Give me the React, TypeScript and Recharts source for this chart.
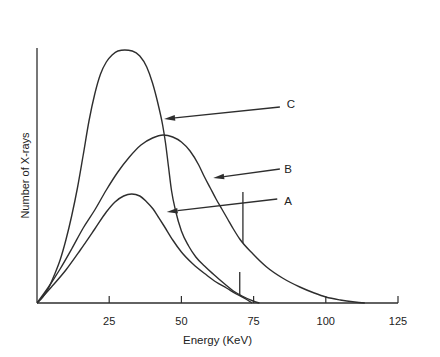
import { Label, Line, LineChart, ReferenceDot, ReferenceLine, XAxis, YAxis } from "recharts";

// X-ray spectra: energy (keV) vs relative count
const curveA = [
  { e: 0, n: 0 }, { e: 5, n: 16 }, { e: 10, n: 33 }, { e: 15, n: 53 },
  { e: 20, n: 74 }, { e: 24, n: 91 }, { e: 27, n: 101 }, { e: 30, n: 107 },
  { e: 32.8, n: 109 }, { e: 35.6, n: 107 }, { e: 38, n: 101 }, { e: 40.2, n: 94 },
  { e: 42, n: 86 }, { e: 44, n: 77 }, { e: 47, n: 63 }, { e: 50, n: 51 },
  { e: 54, n: 39 }, { e: 58.7, n: 28 }, { e: 62, n: 21 }, { e: 65.6, n: 15 },
  { e: 69, n: 9 }, { e: 72.6, n: 3.5 }, { e: 74.5, n: 0 },
];

const curveB = [
  { e: 0, n: 0 }, { e: 4, n: 16 }, { e: 8, n: 34 }, { e: 12, n: 54 },
  { e: 16, n: 75 }, { e: 20, n: 93 }, { e: 24, n: 113 }, { e: 28, n: 131 },
  { e: 32, n: 146 }, { e: 36, n: 158 }, { e: 40, n: 165 }, { e: 43.7, n: 168 },
  { e: 47, n: 166 }, { e: 50, n: 161 }, { e: 53, n: 152 }, { e: 56, n: 138 },
  { e: 58, n: 126 }, { e: 60, n: 115 }, { e: 62, n: 104 }, { e: 64, n: 94 },
  { e: 66, n: 84 }, { e: 68, n: 74 }, { e: 70.2, n: 64 }, { e: 74.8, n: 49 },
  { e: 79.5, n: 36 }, { e: 85, n: 25 }, { e: 91, n: 16 }, { e: 96, n: 10 },
  { e: 100, n: 6 }, { e: 105, n: 3 }, { e: 110, n: 1 }, { e: 113.5, n: 0 },
];

const curveC = [
  { e: 0, n: 0 }, { e: 2, n: 6 }, { e: 4, n: 15 }, { e: 6, n: 28 },
  { e: 8, n: 43 }, { e: 10, n: 63 }, { e: 12, n: 87 }, { e: 14, n: 115 },
  { e: 16, n: 148 }, { e: 18, n: 182 }, { e: 20, n: 209 }, { e: 22, n: 229 },
  { e: 24, n: 241 }, { e: 26, n: 248 }, { e: 28, n: 252 }, { e: 30.4, n: 253 },
  { e: 33, n: 252 }, { e: 35.6, n: 247 }, { e: 38, n: 236 }, { e: 40, n: 220 },
  { e: 42, n: 198 }, { e: 43.5, n: 178 }, { e: 44.5, n: 160 }, { e: 45.5, n: 137 },
  { e: 46.6, n: 112 }, { e: 48, n: 92 }, { e: 50, n: 72 }, { e: 52.5, n: 57 },
  { e: 55, n: 46 }, { e: 58, n: 37 }, { e: 61, n: 29 }, { e: 65, n: 19 },
  { e: 68, n: 12 }, { e: 71, n: 7 }, { e: 74.8, n: 2 }, { e: 77, n: 0 },
];

const energyTicks = [25, 50, 75, 100, 125];

// annotation arrows: tail, tip and letter, in chart units
const arrowNames = ["A", "B", "C"];
const arrowTails = [{ e: 83.2, n: 104 }, { e: 84.1, n: 134 }, { e: 84.1, n: 196 }];
const arrowTips = [{ e: 44.9, n: 91 }, { e: 61, n: 125 }, { e: 44.0, n: 184 }];
const letterSpots = [{ e: 86.9, n: 102 }, { e: 86.9, n: 134 }, { e: 87.9, n: 199 }];

// the two hand-drawn vertical marks near 70 keV
const markLines = [
  [{ e: 71.3, n: 111 }, { e: 71.3, n: 60 }],
  [{ e: 70.2, n: 31 }, { e: 70.2, n: 8 }],
];

const INK = "#2e2e2e";
const TEXT = "#222";
const FONT = "'Liberation Sans', Arial, sans-serif";

function Arrow(props: any) {
  const { x1, y1, x2, y2 } = props;
  const len = Math.hypot(x2 - x1, y2 - y1) || 1;
  const ux = (x2 - x1) / len;
  const uy = (y2 - y1) / len;
  const bx = x2 - ux * 11;
  const by = y2 - uy * 11;
  const px = -uy * 2.8;
  const py = ux * 2.8;
  return (
    <g>
      <line x1={x1} y1={y1} x2={bx} y2={by} stroke={INK} strokeWidth={1.3} />
      <polygon points={`${x2},${y2} ${bx + px},${by + py} ${bx - px},${by - py}`} fill={INK} />
    </g>
  );
}

function EnergyTick(props: any) {
  const { x, y, payload } = props;
  return (
    <g>
      <line x1={x} x2={x} y1={y} y2={y - 7} stroke={INK} strokeWidth={1.2} />
      <text x={x} y={y + 22} textAnchor="middle" fontSize={11} fill={TEXT} fontFamily={FONT}>
        {payload.value}
      </text>
    </g>
  );
}

export default function App() {
  return (
    <div style={{ position: "absolute", left: 0, top: 0, width: 440, height: 357, background: "#fff" }}>
      <LineChart width={440} height={357} margin={{ top: 48, right: 42, bottom: 24, left: 7 }}>
        <XAxis
          type="number"
          dataKey="e"
          domain={[0, 125]}
          ticks={energyTicks}
          allowDataOverflow
          height={30}
          tickSize={0}
          tickMargin={0}
          tickLine={false}
          tick={<EnergyTick />}
          axisLine={{ stroke: INK, strokeWidth: 1.3 }}
        >
          <Label
            content={(p: any) => {
              const vb = p.viewBox;
              return (
                <text x={vb.x + vb.width / 2} y={vb.y + 41} textAnchor="middle" fontSize={11.5} fill={TEXT} fontFamily={FONT}>
                  Energy (KeV)
                </text>
              );
            }}
          />
        </XAxis>
        <YAxis
          type="number"
          domain={[0, 255]}
          width={30}
          tick={false}
          tickLine={false}
          axisLine={{ stroke: INK, strokeWidth: 1.3 }}
        >
          <Label
            content={(p: any) => {
              const vb = p.viewBox;
              const cx = vb.x + vb.width - 12.5;
              const cy = vb.y + vb.height / 2;
              return (
                <text
                  x={cx}
                  y={cy}
                  transform={`rotate(-90, ${cx}, ${cy})`}
                  textAnchor="middle"
                  dominantBaseline="central"
                  fontSize={11}
                  fill={TEXT}
                  fontFamily={FONT}
                >
                  Number of X-rays
                </text>
              );
            }}
          />
        </YAxis>
        <Line data={curveA} dataKey="n" type="monotone" stroke={INK} strokeWidth={1.4} dot={false} isAnimationActive={false} />
        <Line data={curveB} dataKey="n" type="monotone" stroke={INK} strokeWidth={1.4} dot={false} isAnimationActive={false} />
        <Line data={curveC} dataKey="n" type="monotone" stroke={INK} strokeWidth={1.4} dot={false} isAnimationActive={false} />
        {markLines.map((seg, i) => (
          <ReferenceLine
            key={`m${i}`}
            segment={[{ x: seg[0].e, y: seg[0].n }, { x: seg[1].e, y: seg[1].n }]}
            stroke={INK}
            strokeWidth={1.3}
          />
        ))}
        {arrowNames.map((name, i) => (
          <ReferenceLine
            key={`a${name}`}
            segment={[{ x: arrowTails[i].e, y: arrowTails[i].n }, { x: arrowTips[i].e, y: arrowTips[i].n }]}
            shape={Arrow}
          />
        ))}
        {arrowNames.map((name, i) => (
          <ReferenceDot
            key={`l${name}`}
            x={letterSpots[i].e}
            y={letterSpots[i].n}
            r={0}
            fill="none"
            stroke="none"
            label={{ value: name, position: "center", fill: TEXT, fontSize: 11.5, fontFamily: FONT }}
          />
        ))}
      </LineChart>
    </div>
  );
}
